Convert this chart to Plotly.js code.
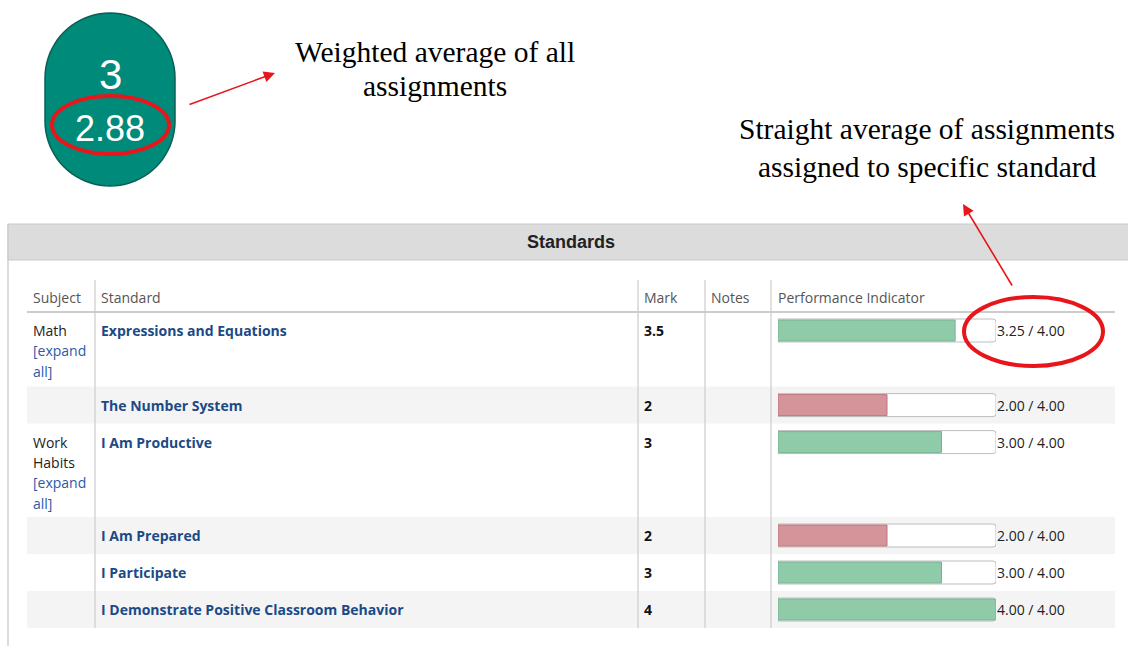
<!DOCTYPE html>
<html><head><meta charset="utf-8">
<script src="https://cdn.plot.ly/plotly-3.0.1.min.js"></script>
<style>html,body{margin:0;padding:0;background:#fff;}#chart{width:1128px;height:646px;}</style>
</head><body><div id="chart"></div>
<script>
// ---- data ----
const overallMark = "3";
const weightedAverage = "2.88";
const subjects = ["Math", "", "Work Habits", "", "", ""];
const subjectWrapped = [["Math"], [], ["Work", "Habits"], [], [], []];
const standards = ["Expressions and Equations", "The Number System", "I Am Productive", "I Am Prepared", "I Participate", "I Demonstrate Positive Classroom Behavior"];
const marks = ["3.5", "2", "3", "2", "3", "4"];
const scores = [3.25, 2.00, 3.00, 2.00, 3.00, 4.00];
const maxScore = 4.00;
const columnHeaders = ["Subject", "Standard", "Mark", "Notes", "Performance Indicator"];
const noteWeighted = ["Weighted average of all", "assignments"];
const noteStraight = ["Straight average of assignments", "assigned to specific standard"];

// ---- layout constants (pixels) ----
const W = 1128, H = 646;
const colX = [33, 101, 644, 711, 778];
const sepX = [95, 638, 705, 771];
const tableTop = 312, rowBase = 37, rowExtra = 18.8, lineH = 20.3, textOff = 18.5;
const red = "#e8161b";
const tableFont = "Open Sans, Noto Sans, sans-serif";
const serif = "Liberation Serif, Times New Roman, serif";

const shapes = [], ann = [];

// badge pill (stadium shape built from two half circles)
(function(){
  const cx = 110, r = 65, yTop = 78, yBot = 121, n = 40;
  let p = "M " + (cx - r) + "," + yTop;
  for (let k = 1; k <= n; k++) {
    const a = Math.PI + Math.PI * k / n;
    p += " L " + (cx + r*Math.cos(a)).toFixed(2) + "," + (yTop + r*Math.sin(a)).toFixed(2);
  }
  p += " L " + (cx + r) + "," + yBot;
  for (let k = 1; k <= n; k++) {
    const a = Math.PI * k / n;
    p += " L " + (cx + r*Math.cos(a)).toFixed(2) + "," + (yBot + r*Math.sin(a)).toFixed(2);
  }
  p += " Z";
  shapes.push({type:"path", xref:"x", yref:"y", path:p, fillcolor:"#008a7a",
    line:{color:"#0a5f55", width:1.5}});
})();
ann.push({x:110, y:74, xref:"x", yref:"y", text:overallMark, showarrow:false,
  font:{family:"Liberation Sans, Arial", size:42, color:"#fff"}});
ann.push({x:110, y:128, xref:"x", yref:"y", text:weightedAverage, showarrow:false,
  font:{family:"Liberation Sans, Arial", size:36, color:"#fff"}});
shapes.push({type:"circle", xref:"x", yref:"y", x0:52, x1:169, y0:96, y1:154,
  line:{color:red, width:4}});

// arrow 1 + notes
ann.push({x:275, y:73, ax:188, ay:105, xref:"x", yref:"y", axref:"x", ayref:"y",
  text:"", showarrow:true, arrowhead:2, arrowsize:1.4, arrowwidth:1.6, arrowcolor:red});
noteWeighted.forEach((t,i)=>ann.push({x:435, y:52+i*34, xref:"x", yref:"y", text:t, showarrow:false,
  font:{family:serif, size:29.5, color:"#000"}}));
noteStraight.forEach((t,i)=>ann.push({x:927, y:129+i*38, xref:"x", yref:"y", text:t, showarrow:false,
  font:{family:serif, size:29.5, color:"#000"}}));
ann.push({x:963, y:204, ax:1013, ay:287, xref:"x", yref:"y", axref:"x", ayref:"y",
  text:"", showarrow:true, arrowhead:2, arrowsize:1.4, arrowwidth:1.6, arrowcolor:red});

// panel
shapes.push({type:"rect", xref:"x", yref:"y", x0:8, x1:1160, y0:224, y1:260, layer:"below",
  fillcolor:"#dcdcdc", line:{color:"#c9c9c9", width:1}});
shapes.push({type:"line", xref:"x", yref:"y", x0:8, x1:8, y0:224, y1:646, layer:"below",
  line:{color:"#cfcfcf", width:1.5}});
ann.push({x:571, y:242, xref:"x", yref:"y", text:"<b>Standards</b>", showarrow:false,
  font:{family:"Liberation Sans, Arial", size:18, color:"#222"}});

// column headers
columnHeaders.forEach((t,i)=>ann.push({x:colX[i]-2, y:297, xref:"x", yref:"y", xanchor:"left", text:t,
  showarrow:false, font:{family:tableFont, size:14, color:"#555"}}));
shapes.push({type:"line", xref:"x", yref:"y", x0:27, x1:1115, y0:312, y1:312, layer:"below",
  line:{color:"#cccccc", width:2}});

// rows
const rowCenters = [];
let yy = tableTop;
subjects.forEach((s,i)=>{
  const lines = subjectWrapped[i].length ? subjectWrapped[i].length + 2 : 1;
  const h = rowBase + (lines-1)*rowExtra;
  const yc = yy + textOff;
  rowCenters.push(yc);
  if (i % 2 === 1) shapes.push({type:"rect", xref:"x", yref:"y", x0:27, x1:1115, y0:yy, y1:yy+h,
    layer:"below", fillcolor:"#f4f4f4", line:{width:0}});
  const sl = subjectWrapped[i].length ? subjectWrapped[i].concat(["[expand", "all]"]) : [];
  sl.forEach((t,k)=>ann.push({x:colX[0]-2, y:yc+k*lineH, xref:"x", yref:"y", xanchor:"left", text:t,
    showarrow:false, font:{family:tableFont, size:14, color: k >= subjectWrapped[i].length ? "#2a5aa8" : "#222"}}));
  ann.push({x:colX[1]-2, y:yc, xref:"x", yref:"y", xanchor:"left", text:"<b>"+standards[i]+"</b>",
    showarrow:false, font:{family:tableFont, size:14, color:"#1b4a86"}});
  ann.push({x:colX[2]-2, y:yc, xref:"x", yref:"y", xanchor:"left", text:"<b>"+marks[i]+"</b>",
    showarrow:false, font:{family:tableFont, size:14, color:"#111"}});
  ann.push({x:995, y:yc, xref:"x", yref:"y", xanchor:"left",
    text:scores[i].toFixed(2)+" / "+maxScore.toFixed(2),
    showarrow:false, font:{family:tableFont, size:14, color:"#222"}});
  yy += h;
});
const tableBottom = yy;
sepX.forEach(x=>shapes.push({type:"line", xref:"x", yref:"y", x0:x, x1:x, y0:280, y1:tableBottom,
  layer:"below", line:{color:"#cccccc", width:1.2}}));

// second ellipse
shapes.push({type:"circle", xref:"x", yref:"y", x0:964, x1:1103, y0:297, y1:366,
  line:{color:red, width:4}});

const barColors = scores.map(v => v >= 2.5 ? "#8fcaa9" : "#d5939a");
const barLines = scores.map(v => v >= 2.5 ? "#76b491" : "#bd7780");

const traces = [
  {type:"bar", orientation:"h", x:scores.map(()=>maxScore), y:rowCenters, width:23,
   xaxis:"x2", yaxis:"y", marker:{color:"#ffffff", line:{color:"#bdbdbd", width:1}, cornerradius:3},
   hoverinfo:"skip", showlegend:false},
  {type:"bar", orientation:"h", x:scores, y:rowCenters, width:21,
   xaxis:"x2", yaxis:"y", marker:{color:barColors, line:{color:barLines, width:1}, cornerradius:2},
   hoverinfo:"skip", showlegend:false}
];

const layout = {
  width:W, height:H, margin:{l:0,r:0,t:0,b:0}, paper_bgcolor:"#fff", plot_bgcolor:"rgba(0,0,0,0)",
  barmode:"overlay", showlegend:false,
  xaxis:{range:[0,W], domain:[0,1], visible:false, fixedrange:true},
  yaxis:{range:[H,0], domain:[0,1], visible:false, fixedrange:true},
  xaxis2:{range:[0,maxScore], domain:[778/W, 996/W], anchor:"y", visible:false, fixedrange:true},
  shapes:shapes, annotations:ann
};
Plotly.newPlot("chart", traces, layout, {staticPlot:true, displayModeBar:false});
</script></body></html>
